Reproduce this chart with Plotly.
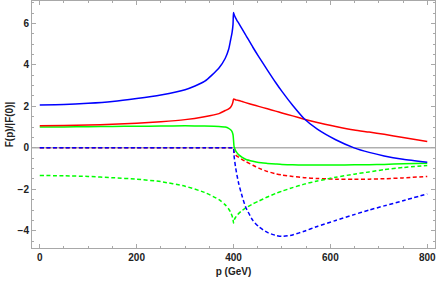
import plotly.graph_objects as go

# momentum grid (GeV)
p_pre = [0, 50, 100, 150, 200, 250, 300, 340, 370, 383, 390, 394, 397, 399, 400]
p_post = [400, 401, 402, 404, 407, 411, 418, 425, 440, 452, 470, 487, 500, 522, 546,
          573, 611, 649, 680, 711, 750, 800]

# solid curves
blue_pre = [2.07, 2.09, 2.15, 2.24, 2.38, 2.55, 2.80, 3.20, 3.85, 4.32, 4.75, 5.20, 5.55, 5.95, 6.52]
blue_post = [6.52, 6.45, 6.38, 6.28, 6.15, 6.00, 5.72, 5.45, 4.85, 4.40, 3.75, 3.15, 2.72,
             2.05, 1.40, 0.90, 0.39, 0.00, -0.22, -0.39, -0.55, -0.70]

red_pre = [1.07, 1.08, 1.10, 1.14, 1.19, 1.26, 1.36, 1.50, 1.65, 1.80, 1.88, 1.96, 2.08, 2.23, 2.35]
red_post = [2.35, 2.34, 2.34, 2.32, 2.30, 2.28, 2.23, 2.18, 2.08, 2.00, 1.88, 1.77, 1.68,
            1.54, 1.38, 1.22, 1.03, 0.86, 0.76, 0.65, 0.50, 0.30]

green_pre = [1.00, 1.01, 1.02, 1.03, 1.04, 1.05, 1.06, 1.05, 1.03, 1.00, 0.94, 0.87, 0.78, 0.63, 0.39]
green_post = [0.39, 0.10, 0.00, -0.12, -0.23, -0.34, -0.46, -0.55, -0.65, -0.71, -0.75, -0.78, -0.80,
              -0.82, -0.83, -0.83, -0.83, -0.82, -0.81, -0.80, -0.77, -0.74]

# dashed curves
blue_d_pre = [0.0] * 15
blue_d_post = [0.0, -0.35, -0.55, -0.90, -1.30, -1.75, -2.35, -2.85, -3.50, -3.80, -4.08, -4.22, -4.27,
               -4.20, -4.02, -3.79, -3.50, -3.22, -3.00, -2.80, -2.55, -2.22]

red_d_pre = [0.0] * 15
red_d_post = [0.0, -0.17, -0.26, -0.33, -0.40, -0.46, -0.57, -0.66, -0.84, -0.98, -1.14, -1.25, -1.31,
              -1.38, -1.44, -1.48, -1.51, -1.52, -1.51, -1.49, -1.45, -1.38]

green_d_pre = [-1.33, -1.35, -1.38, -1.44, -1.51, -1.63, -1.85, -2.15, -2.50, -2.75, -2.95, -3.10, -3.28, -3.45, -3.63]
green_d_post = [-3.63, -3.52, -3.45, -3.36, -3.26, -3.16, -3.02, -2.90, -2.70, -2.57, -2.37, -2.20, -2.09,
                -1.92, -1.75, -1.60, -1.42, -1.27, -1.16, -1.05, -0.95, -0.85]

xticks = [0, 200, 400, 600, 800]
yticks = [-4, -2, 0, 2, 4, 6]

P = p_pre + p_post[1:]

def join(a, b):
    return a + b[1:]

fig = go.Figure()

# zero axis line
fig.add_trace(go.Scatter(x=[-16, 816], y=[0, 0], mode="lines",
                         line=dict(color="#888888", width=1), hoverinfo="skip", showlegend=False))

series = [
    (join(red_d_pre, red_d_post), "#ff0000", "dash"),
    (join(green_d_pre, green_d_post), "#00ff00", "dash"),
    (join(blue_d_pre, blue_d_post), "#0000ff", "dash"),
    (join(green_pre, green_post), "#00ff00", "solid"),
    (join(red_pre, red_post), "#ff0000", "solid"),
    (join(blue_pre, blue_post), "#0000ff", "solid"),
]
for ys, col, style in series:
    fig.add_trace(go.Scatter(
        x=P, y=ys, mode="lines",
        line=dict(color=col, width=1.5, shape="spline", smoothing=0.6,
                  dash=("4px,2.5px" if style == "dash" else "solid")),
        showlegend=False))

axis_common = dict(
    showline=True, linecolor="#a8a8a8", linewidth=1, mirror="ticks",
    ticks="inside", ticklen=4, tickcolor="#a8a8a8", tickwidth=1,
    showgrid=False, zeroline=False, automargin=False, ticklabeloverflow="allow",
    tickfont=dict(family="Liberation Sans", size=10, color="#222222", weight="bold"),
)

fig.update_layout(
    width=436, height=281,
    margin=dict(l=32, r=1, t=1, b=33),
    plot_bgcolor="white", paper_bgcolor="white",
    xaxis=dict(range=[-16, 816], tickvals=xticks,
               minor=dict(ticks="inside", ticklen=2, tickcolor="#a8a8a8", dtick=50, tick0=0),
               title=dict(text="p (GeV)", standoff=5,
                          font=dict(family="Liberation Sans", size=10, color="#222222", weight="bold")),
               **axis_common),
    yaxis=dict(range=[-4.83, 7.08], tickvals=yticks,
               minor=dict(ticks="inside", ticklen=2, tickcolor="#a8a8a8", dtick=0.5, tick0=0),
               title=dict(text="F(p)/|F(0)|", standoff=2,
                          font=dict(family="Liberation Sans", size=10, color="#222222", weight="bold")),
               **axis_common),
)

fig.write_html("out.html", config={"displayModeBar": False},
               post_script="document.body.style.margin='0';document.body.style.overflow='hidden';")
